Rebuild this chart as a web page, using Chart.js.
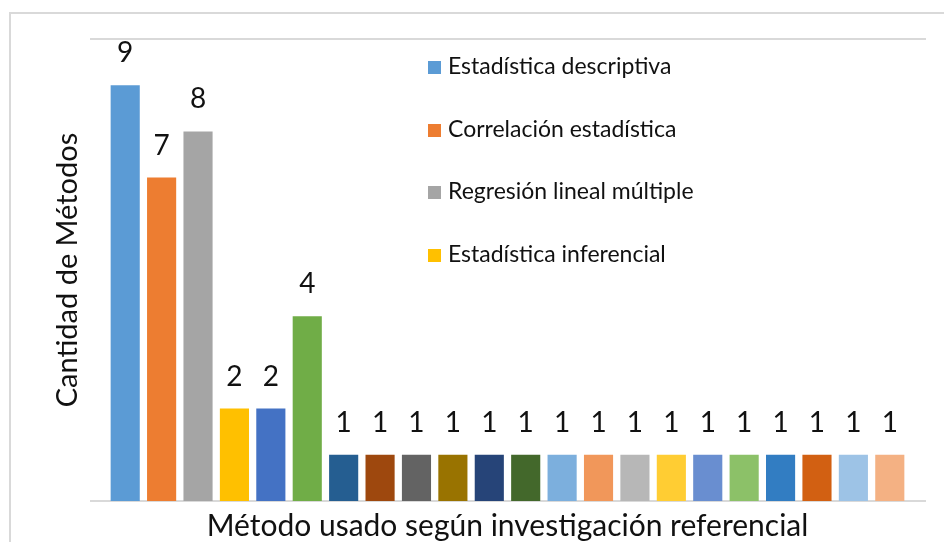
<!DOCTYPE html>
<html>
<head>
<meta charset="utf-8">
<script src="https://cdn.jsdelivr.net/npm/chart.js@4.4.0/dist/chart.umd.min.js"></script>
<style>
  html, body { margin: 0; padding: 0; background: #fff; }
  #wrap { position: relative; width: 944px; height: 542px; overflow: hidden; }
  #frame { position: absolute; left: 9px; top: 12px; width: 1000px; height: 600px; border: 2px solid #d9d9d9; box-sizing: border-box; }
  #leyenda { position: absolute; left: 428px; top: 51px; font-family: Lato, sans-serif; font-size: 23px; color: #111; }
  #leyenda div { height: 62.7px; display: flex; align-items: flex-start; }
  #leyenda span.caja { display: inline-block; width: 13px; height: 13px; margin: 10px 7px 0 0; }
</style>
</head>
<body>
<div id="wrap">
  <div id="frame"></div>
  <canvas id="grafico" width="944" height="542"></canvas>
  <div id="leyenda"></div>
</div>
<script>
// Datos
const metodos = [
  'Estadística descriptiva', 'Correlación estadística', 'Regresión lineal múltiple',
  'Estadística inferencial', 'Método 5', 'Método 6', 'Método 7', 'Método 8',
  'Método 9', 'Método 10', 'Método 11', 'Método 12', 'Método 13', 'Método 14',
  'Método 15', 'Método 16', 'Método 17', 'Método 18', 'Método 19', 'Método 20',
  'Método 21', 'Método 22'
];
const cantidades = [9, 7, 8, 2, 2, 4, 1, 1, 1, 1, 1, 1, 1, 1, 1, 1, 1, 1, 1, 1, 1, 1];
const colores = [
  '#5B9BD5', '#ED7D31', '#A5A5A5', '#FFC000', '#4472C4', '#70AD47',
  '#255E91', '#9E480E', '#636363', '#997300', '#264478', '#43682B',
  '#7CAFDD', '#F1975A', '#B7B7B7', '#FFCD33', '#698ED0', '#8CC168',
  '#327DC2', '#D26012', '#9DC3E6', '#F4B183'
];
const enLeyenda = 4;

// Leyenda (solo las primeras cuatro)
const leyenda = document.getElementById('leyenda');
for (let i = 0; i < enLeyenda; i++) {
  const fila = document.createElement('div');
  fila.innerHTML = `<span class="caja" style="background:${colores[i]}"></span><span>${metodos[i]}</span>`;
  leyenda.appendChild(fila);
}

// Etiquetas de valor sobre las barras
const etiquetas = {
  id: 'etiquetas',
  afterDatasetsDraw(chart) {
    const ctx = chart.ctx;
    const meta = chart.getDatasetMeta(0);
    ctx.save();
    ctx.font = '28px Lato, sans-serif';
    ctx.fillStyle = '#111';
    ctx.textAlign = 'center';
    ctx.textBaseline = 'bottom';
    meta.data.forEach((barra, i) => {
      ctx.fillText(cantidades[i], barra.x, barra.y - 18);
    });
    ctx.restore();
  }
};

// Lineas superior e inferior, un poco mas anchas que el area
const lineas = {
  id: 'lineas',
  beforeDatasetsDraw(chart) {
    const ctx = chart.ctx;
    const y = chart.scales.y;
    const area = chart.chartArea;
    ctx.save();
    ctx.strokeStyle = '#d9d9d9';
    ctx.lineWidth = 2;
    [0, 10].forEach(v => {
      const py = Math.round(y.getPixelForValue(v));
      ctx.beginPath();
      ctx.moveTo(area.left - 17, py);
      ctx.lineTo(area.right + 18, py);
      ctx.stroke();
    });
    ctx.restore();
  }
};

new Chart(document.getElementById('grafico'), {
  type: 'bar',
  data: {
    labels: metodos,
    datasets: [{
      label: 'Cantidad',
      data: cantidades,
      backgroundColor: colores,
      barPercentage: 0.8,
      categoryPercentage: 1.0
    }]
  },
  options: {
    responsive: false,
    animation: false,
    layout: { padding: { top: 39, right: 36, left: 0, bottom: 0 } },
    plugins: {
      legend: { display: false },
      tooltip: { enabled: false }
    },
    scales: {
      x: {
        grid: { display: false },
        border: { display: false },
        ticks: { display: false },
        title: {
          display: true,
          text: 'Método usado según investigación referencial',
          font: { family: 'Lato, sans-serif', size: 30 },
          color: '#111',
          padding: { top: 0, bottom: -2 }
        },
        afterFit(scale) { scale.height = 41; }
      },
      y: {
        min: 0,
        max: 10,
        grid: { display: false },
        border: { display: false },
        ticks: { display: false },
        title: {
          display: true,
          text: 'Cantidad de Métodos',
          font: { family: 'Lato, sans-serif', size: 29 },
          color: '#111',
          padding: { top: 50, bottom: 0 }
        },
        afterFit(scale) { scale.width = 107; }
      }
    }
  },
  plugins: [lineas, etiquetas]
});
</script>
</body>
</html>
